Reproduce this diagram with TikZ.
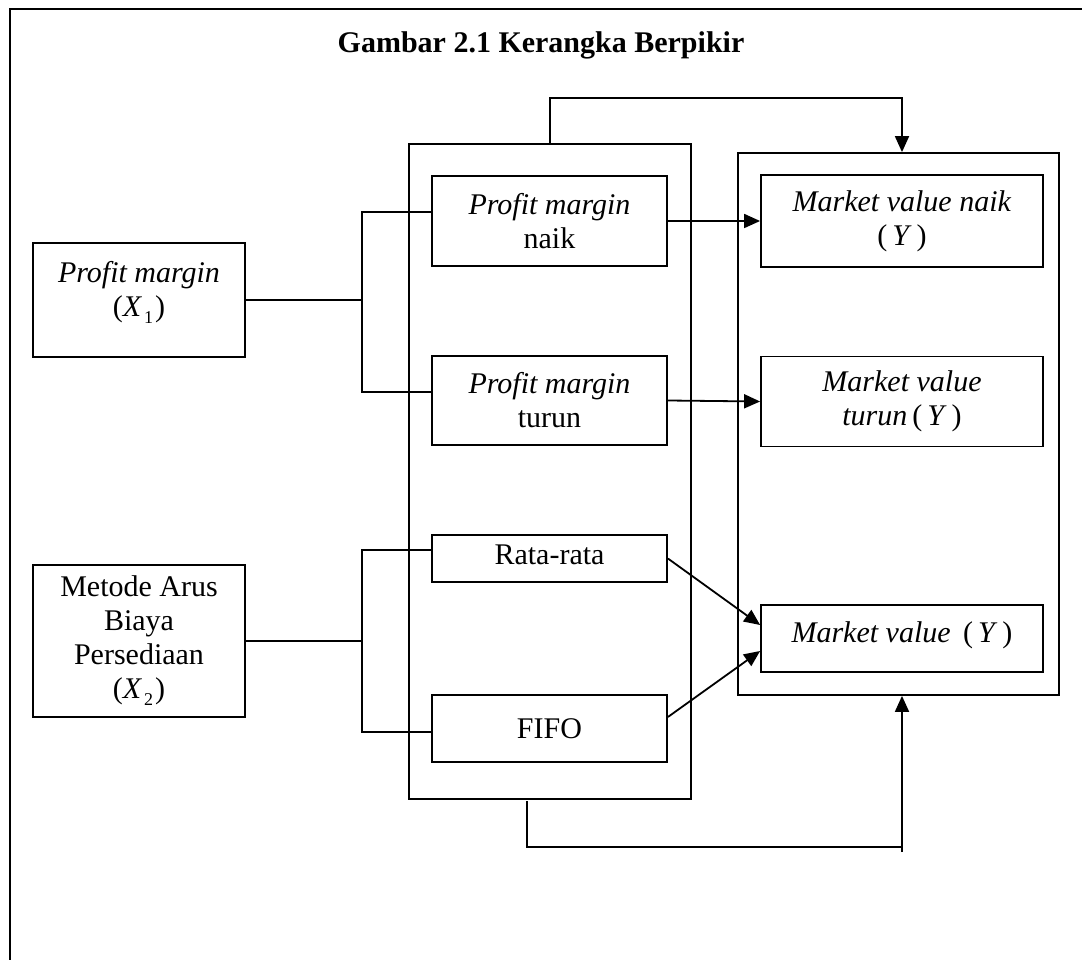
\documentclass[tikz,border=0pt]{standalone}
\usepackage{fontspec}
\setmainfont{Liberation Serif}
\usetikzlibrary{arrows.meta,calc}
\newcommand{\subone}[1]{\kern2pt\raisebox{-7pt}{\fontsize{18}{18}\selectfont #1}\kern2pt}
\begin{document}
\begin{tikzpicture}[x=1pt,y=-1pt,
  lw/.style={line width=1.8pt},
  box/.style={draw, lw, inner sep=0pt, align=center, font=\fontsize{30}{34}\selectfont},
  txt/.style={inner sep=0pt, align=center, font=\fontsize{30}{34}\selectfont},
  conn/.style={lw},
  arr/.style={lw, -{Triangle[length=16pt,width=14pt]}}]
\useasboundingbox (0,0) rectangle (1082,960);
% outer frame
\draw[lw] (10,960) -- (10,9) -- (1082,9);
% title
\node[font=\fontsize{30}{34}\selectfont\bfseries] (title) at (541,45) {Gambar 2.1 Kerangka Berpikir};
% containers
\node[box, minimum width=282pt, minimum height=655pt] (mid) at (550,471.5) {};
\node[box, minimum width=321pt, minimum height=542pt] (right) at (898.5,424) {};
% left boxes
\node[box, minimum width=212pt, minimum height=114pt] (b1) at (139,300) {};
\node[txt] (b1t) at ([yshift=8pt]b1.center) {\textit{Profit margin}\\(\textit{X}\subone{1})};
\node[box, minimum width=212pt, minimum height=152pt] (b2) at (139,641) {Metode Arus\\Biaya\\Persediaan\\(\textit{X}\subone{2})};
% middle boxes
\node[box, minimum width=235pt, minimum height=90pt] (naik) at (549.5,221) {\textit{Profit margin}\\naik};
\node[box, minimum width=235pt, minimum height=89pt] (turun) at (549.5,400.5) {\textit{Profit margin}\\turun};
\node[box, minimum width=235pt, minimum height=47pt] (rata) at (549.5,558.5) {};
\node[txt] (ratat) at ([yshift=4pt]rata.center) {Rata-rata};
\node[box, minimum width=235pt, minimum height=67pt] (fifo) at (549.5,728.5) {FIFO};
% right boxes
\node[box, minimum width=282pt, minimum height=92pt] (mvnaik) at (902,221) {\textit{Market value naik}\\(\,\textit{Y}\,)};
\node[box, minimum width=282pt, minimum height=90pt] (mvturun) at (902,401.5) {\textit{Market value}\\\textit{turun}\,(\,\textit{Y}\,)};
\node[box, minimum width=282pt, minimum height=67pt] (mv) at (902,638.5) {};
\node[txt] (mvt) at ([yshift=3pt]mv.center) {\textit{Market value}\ \,(\,\textit{Y}\,)};
% junctions
\coordinate (j1) at (362,300);
\coordinate (j2) at (362,641);
\coordinate (t1) at (550,98);
\coordinate (bs) at (527,801);
\coordinate (bc) at (527,847);
\coordinate (be) at (902,852);
% brackets
\draw[conn] (b1.east) -- (j1);
\draw[conn] ([yshift=9pt]naik.west) -| (j1) |- ([yshift=8.5pt]turun.west);
\draw[conn] (b2.east) -- (j2);
\draw[conn] ([yshift=8.5pt]rata.west) -| (j2) |- ([yshift=-3.5pt]fifo.west);
% arrows
\draw[arr] (naik.east) -- (naik.east -| mvnaik.west);
\draw[arr] (turun.east) -- (mvturun.west);
\draw[arr] (rata.east) -- ([yshift=13.5pt]mv.west);
\draw[arr] ([yshift=11.5pt]fifo.east) -- ([yshift=-12.5pt]mv.west);
% top loop
\draw[arr] (mid.north) -- (t1) -| ([xshift=3.5pt]right.north);
% bottom loop
\draw[conn] (bs) -- (bc) -- (bc -| be);
\draw[arr] (be) -- (be |- right.south);
\end{tikzpicture}
\end{document}
